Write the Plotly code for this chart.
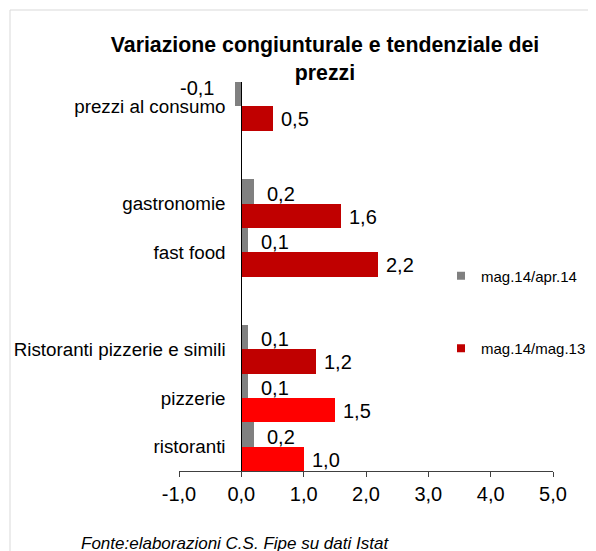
import plotly.graph_objects as go

# ---- data ----
categories = ["prezzi al consumo", " ", "gastronomie", "fast food", "  ",
              "Ristoranti pizzerie e simili", "pizzerie", "ristoranti"]
bar_categories = ["prezzi al consumo", "gastronomie", "fast food",
                  "Ristoranti pizzerie e simili", "pizzerie", "ristoranti"]
series_mom = [-0.1, 0.2, 0.1, 0.1, 0.1, 0.2]      # mag.14/apr.14
series_yoy = [0.5, 1.6, 2.2, 1.2, 1.5, 1.0]       # mag.14/mag.13
series_names = ["mag.14/apr.14", "mag.14/mag.13"]
x_ticks = [-1, 0, 1, 2, 3, 4, 5]

# ---- style ----
OFF = 8                      # page margin of the html body
W, H = 596 - OFF, 551 - OFF
PLOT_L, PLOT_R, PLOT_T, PLOT_B = 179, 553, 82, 471   # page pixels
ML = PLOT_L - OFF
MR = W - (PLOT_R - OFF)
MT = PLOT_T - OFF
MB = H - (PLOT_B - OFF)
FONT = "Arial, 'Liberation Sans', sans-serif"
GREY = "#808080"
DARK_RED = "#C00000"
RED = "#FF0000"
yoy_colors = [DARK_RED, DARK_RED, DARK_RED, DARK_RED, RED, RED]
XMIN, XMAX = x_ticks[0], x_ticks[-1]

PW, PH = PLOT_R - PLOT_L, PLOT_B - PLOT_T


def px_x(px):
    return (px - PLOT_L) / PW


def px_y(py):
    return (PLOT_B - py) / PH


def fmt(v):
    return f"{v:.1f}".replace(".", ",")


fig = go.Figure()
fig.add_trace(go.Bar(y=bar_categories, x=series_mom, orientation="h",
                     marker=dict(color=GREY, line=dict(width=0)),
                     name=series_names[0], showlegend=False))
fig.add_trace(go.Bar(y=bar_categories, x=series_yoy, orientation="h",
                     marker=dict(color=yoy_colors, line=dict(width=0)),
                     name=series_names[1], showlegend=False))

# legend entries (small square keys)
for nm, col, grp in [(series_names[0], GREY, "a"), (series_names[1], DARK_RED, "b")]:
    fig.add_trace(go.Scatter(x=[None], y=[None], mode="markers", name=nm,
                             legendgroup=grp,
                             marker=dict(symbol="square", size=8, color=col)))

annotations = []
for cat, v in zip(bar_categories, series_mom):
    annotations.append(dict(x=v, y=cat, xref="x", yref="y", text=fmt(v),
                            showarrow=False,
                            xanchor="left" if v >= 0 else "right",
                            xshift=11 if v >= 0 else -19,
                            yshift=10 if v >= 0 else 18,
                            font=dict(family=FONT, size=20, color="black")))
for cat, v in zip(bar_categories, series_yoy):
    annotations.append(dict(x=v, y=cat, xref="x", yref="y", text=fmt(v),
                            showarrow=False, xanchor="left", xshift=6,
                            yshift=-13,
                            font=dict(family=FONT, size=20, color="black")))

annotations.append(dict(text="Fonte:elaborazioni C.S. Fipe su dati Istat",
                        xref="paper", yref="paper", x=px_x(79), y=px_y(543),
                        xanchor="left", yanchor="middle", showarrow=False,
                        font=dict(family=FONT, size=17, color="black",
                                  style="italic")))

shapes = [
    # chart frame (left and top edges)
    dict(type="line", xref="paper", yref="paper", x0=px_x(10), x1=px_x(10),
         y0=px_y(10), y1=px_y(560), line=dict(color="#d9d9d9", width=1)),
    dict(type="line", xref="paper", yref="paper", x0=px_x(10), x1=px_x(600),
         y0=px_y(10), y1=px_y(10), line=dict(color="#d9d9d9", width=1)),
]

fig.update_layout(
    width=W, height=H,
    margin=dict(l=ML, r=MR, t=MT, b=MB, pad=0, autoexpand=False),
    paper_bgcolor="white", plot_bgcolor="white",
    separators=",.",
    barmode="group", bargap=0, bargroupgap=0,
    font=dict(family=FONT, color="black"),
    title=dict(text="Variazione congiunturale e tendenziale dei<br>prezzi",
               x=(325 - OFF) / W, xanchor="center", xref="container",
               y=1 - (52 - OFF) / H, yanchor="top", yref="container",
               automargin=False,
               font=dict(family=FONT, size=21.3, color="black", weight="bold")),
    xaxis=dict(range=[XMIN, XMAX], tickvals=x_ticks,
               ticktext=[fmt(t) for t in x_ticks],
               showline=True, linecolor="#404040", linewidth=1,
               ticks="outside", ticklen=5, tickcolor="#404040",
               tickfont=dict(family=FONT, size=20, color="black"),
               showgrid=False, zeroline=False, fixedrange=True,
               automargin=False),
    yaxis=dict(type="category", categoryorder="array", categoryarray=categories,
               range=[len(categories) - 0.5, -0.5],
               anchor="free", position=(0 - XMIN) / (XMAX - XMIN),
               showline=True, linecolor="black", linewidth=1,
               ticks="", ticklabelstandoff=12,
               tickfont=dict(family=FONT, size=18.8, color="black"),
               tickvals=categories,
               showgrid=False, zeroline=False, fixedrange=True,
               automargin=False),
    legend=dict(x=px_x(441), y=px_y(259.5), xanchor="left", yanchor="top",
                traceorder="grouped", tracegroupgap=50,
                font=dict(family=FONT, size=15, color="black"),
                bgcolor="rgba(0,0,0,0)", itemwidth=30),
    annotations=annotations,
    shapes=shapes,
    showlegend=True,
)

fig.write_html("out.html")
